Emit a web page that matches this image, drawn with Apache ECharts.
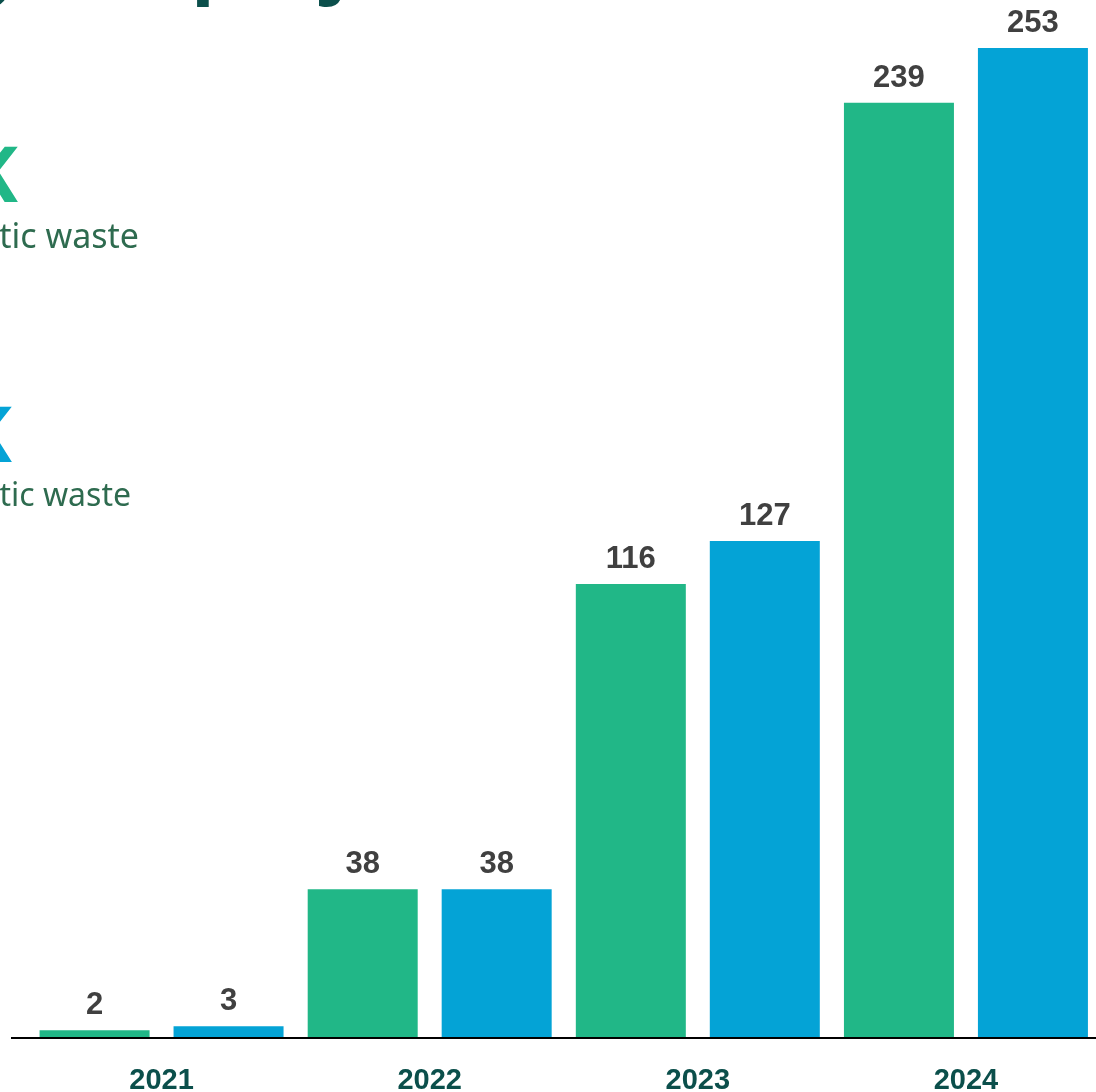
<!DOCTYPE html>
<html>
<head>
<meta charset="utf-8">
<script src="https://cdn.jsdelivr.net/npm/echarts@6/dist/echarts.min.js"></script>
<style>
  html, body { margin: 0; padding: 0; background: #ffffff; }
  #chart { width: 1096px; height: 1092px; }
</style>
</head>
<body>
<div id="chart"></div>
<script>
const years = ['2021', '2022', '2023', '2024'];
const collected = [2, 38, 116, 239];
const recycled = [3, 38, 127, 253];

const green = '#21b787';
const blue = '#04a3d6';
const teal = '#0b4f4b';

const chart = echarts.init(document.getElementById('chart'), null, { renderer: 'canvas' });

const valueLabel = {
  show: true,
  position: 'top',
  distance: 9,
  color: '#404040',
  fontFamily: 'Liberation Sans, Arial, sans-serif',
  fontWeight: 'bold',
  fontSize: 31
};

const option = {
  backgroundColor: '#ffffff',
  animation: false,
  grid: { left: 27.5, width: 1072.5, top: 48, bottom: 54, outerBoundsMode: 'none' },
  xAxis: {
    type: 'category',
    data: years,
    z: 5,
    axisLine: { lineStyle: { color: '#000000', width: 2 } },
    axisTick: { show: false },
    axisLabel: {
      margin: 28,
      color: teal,
      fontFamily: 'Liberation Sans, Arial, sans-serif',
      fontWeight: 'bold',
      fontSize: 29
    }
  },
  yAxis: {
    type: 'value',
    min: 0,
    max: 'dataMax',
    show: false,
    splitLine: { show: false }
  },
  series: [
    {
      name: 'Collected',
      type: 'bar',
      data: collected,
      barWidth: 110,
      barGap: '21.8%',
      itemStyle: { color: green },
      label: valueLabel
    },
    {
      name: 'Recycled',
      type: 'bar',
      data: recycled,
      barWidth: 110,
      barGap: '21.8%',
      itemStyle: { color: blue },
      label: valueLabel
    }
  ],
  graphic: [
    // axis line stub reaching further left than the grid
    { type: 'line', z: 10, shape: { x1: 11, y1: 1038, x2: 30, y2: 1038 }, style: { stroke: '#000000', lineWidth: 2 } },
    // title, cut off by the top edge
    { type: 'text', x: 26, y: -34, style: { text: 'Plastic waste recovery', align: 'right', verticalAlign: 'middle', fill: teal, font: 'bold 78px "Open Sans", "Noto Sans", sans-serif' } },
    { type: 'text', x: 191, y: -34, style: { text: 'project', align: 'left', verticalAlign: 'middle', fill: teal, font: 'bold 78px "Open Sans", "Noto Sans", sans-serif' } },
    // side panel, cut off by the left edge
    { type: 'text', x: 18, y: 180, style: { text: '395K', align: 'right', verticalAlign: 'middle', fill: green, font: 'bold 77px "Noto Sans", sans-serif' } },
    { type: 'text', x: 139, y: 238, style: { text: 'kg of collected plastic waste', align: 'right', verticalAlign: 'middle', fill: '#2e6b4f', font: '34px "Noto Sans", sans-serif' } },
    { type: 'text', x: 12, y: 440, style: { text: '421K', align: 'right', verticalAlign: 'middle', fill: blue, font: 'bold 77px "Noto Sans", sans-serif' } },
    { type: 'text', x: 131, y: 497, style: { text: 'kg of recycled plastic waste', align: 'right', verticalAlign: 'middle', fill: '#2e6b4f', font: '32px "Noto Sans", sans-serif' } }
  ]
};

chart.setOption(option);
</script>
</body>
</html>
